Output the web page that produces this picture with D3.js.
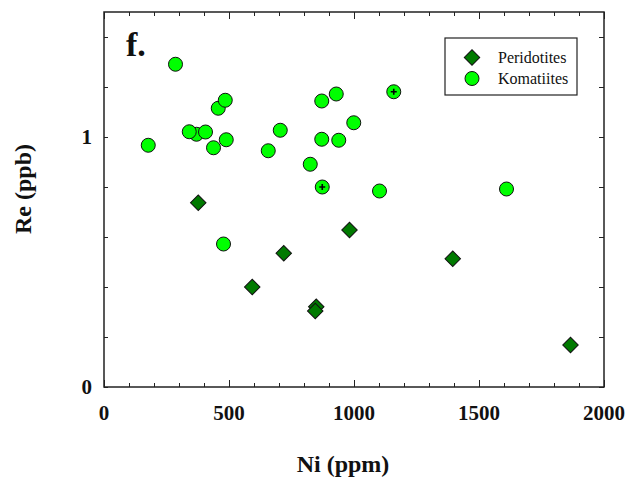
<!DOCTYPE html>
<html>
<head>
<meta charset="utf-8">
<script src="https://cdn.jsdelivr.net/npm/d3@7"></script>
<style>
  body { margin: 0; background: #fff; }
  svg text { font-family: "Liberation Serif", "Times New Roman", Times, serif; fill: #111; }
  .axis path, .axis line { stroke: #222; }
  .axis text { font-size: 21px; font-weight: bold; }
</style>
</head>
<body>
<div id="chart"></div>
<script>
// Komatiites (circles)
const komNi = [177, 286, 370, 341, 406, 438, 457, 485, 489, 478, 657, 705, 825, 871, 871, 873, 929, 939, 999, 1102, 1159, 1610];
const komRe = [0.967, 1.291, 1.011, 1.021, 1.02, 0.957, 1.115, 1.147, 0.989, 0.572, 0.945, 1.027, 0.891, 1.144, 0.991, 0.80, 1.172, 0.987, 1.057, 0.784, 1.181, 0.792];
// komatiite samples drawn with a "+" marker inside
const komMarked = [873, 1159];

// Peridotites (diamonds)
const perNi = [377, 593, 719, 849, 845, 982, 1395, 1866];
const perRe = [0.737, 0.400, 0.535, 0.321, 0.304, 0.628, 0.513, 0.168];

const xTicks = [0, 500, 1000, 1500, 2000];
const yLabelTicks = [0, 1];

const width = 628, height = 483;
const margin = { top: 12, right: 24, bottom: 96, left: 104 };
const serif = '"Liberation Serif", "Times New Roman", Times, serif';

const svg = d3.select('#chart').append('svg')
  .attr('width', width)
  .attr('height', height)
  .attr('font-family', serif);

const x = d3.scaleLinear().domain([0, 2000]).range([margin.left, width - margin.right]);
const y = d3.scaleLinear().domain([0, 1.5]).range([height - margin.bottom, margin.top]);

const x0 = x.range()[0], x1 = x.range()[1];
const y0 = y.range()[0], y1 = y.range()[1];

// minor + major tick marks (inward)
const minorX = d3.range(0, 2001, 100);
const minorY = d3.range(0, 1.51, 0.2);

function xTickAxis(sel, axisFn, dir) {
  sel.call(axisFn(x).tickValues(minorX).tickSize(dir * 4).tickFormat(''))
    .call(g => g.selectAll('.tick line')
      .attr('y2', d => dir * (d % 500 === 0 ? 7 : 4)));
}

// bottom
svg.append('g').attr('class', 'axis')
  .attr('transform', `translate(0,${y0})`)
  .call(g => xTickAxis(g, d3.axisBottom, -1))
  .call(g => g.select('.domain').remove());
// top
svg.append('g').attr('class', 'axis')
  .attr('transform', `translate(0,${y1})`)
  .call(g => xTickAxis(g, d3.axisTop, 1))
  .call(g => g.select('.domain').remove());
// left
svg.append('g').attr('class', 'axis')
  .attr('transform', `translate(${x0},0)`)
  .call(d3.axisLeft(y).tickValues(minorY).tickSize(-4).tickFormat(''))
  .call(g => g.select('.domain').remove());
// right
svg.append('g').attr('class', 'axis')
  .attr('transform', `translate(${x1},0)`)
  .call(d3.axisRight(y).tickValues(minorY).tickSize(-5).tickFormat(''))
  .call(g => g.select('.domain').remove());

// frame
svg.append('rect')
  .attr('x', x0).attr('y', y1)
  .attr('width', x1 - x0).attr('height', y0 - y1)
  .attr('fill', 'none').attr('stroke', '#222').attr('stroke-width', 1.5);

// tick labels
svg.append('g').attr('class', 'axis')
  .selectAll('text').data(xTicks).join('text')
  .attr('x', d => x(d)).attr('y', y0 + 33)
  .attr('text-anchor', 'middle')
  .attr('font-family', serif)
  .text(d => d);

svg.append('g').attr('class', 'axis')
  .selectAll('text').data(yLabelTicks).join('text')
  .attr('x', x0 - 12).attr('y', d => y(d) + 7)
  .attr('text-anchor', 'end')
  .attr('font-family', serif)
  .text(d => d);

// axis titles
svg.append('text')
  .attr('x', 343).attr('y', 472)
  .attr('text-anchor', 'middle')
  .attr('font-family', serif)
  .style('font-size', '24px').style('font-weight', 'bold')
  .text('Ni (ppm)');

svg.append('text')
  .attr('transform', 'translate(31,189) rotate(-90)')
  .attr('text-anchor', 'middle')
  .attr('font-family', serif)
  .style('font-size', '24px').style('font-weight', 'bold')
  .text('Re (ppb)');

// panel letter
svg.append('text')
  .attr('x', 126).attr('y', 56)
  .attr('font-family', serif)
  .style('font-size', '34px').style('font-weight', 'bold')
  .text('f.');

const diamond = d3.symbol().type(d3.symbolSquare).size(120);
const perColor = '#007a00';
const komColor = '#00ff00';

// peridotites
const perData = perNi.map((n, i) => ({ ni: n, re: perRe[i] }));
svg.append('g').selectAll('path').data(perData).join('path')
  .attr('d', diamond)
  .attr('transform', d => `translate(${x(d.ni)},${y(d.re)}) rotate(45)`)
  .attr('fill', perColor).attr('stroke', '#111').attr('stroke-width', 1);

// komatiites
const komData = komNi.map((n, i) => ({ ni: n, re: komRe[i], marked: komMarked.includes(n) }));
const kom = svg.append('g');
kom.selectAll('circle').data(komData).join('circle')
  .attr('cx', d => x(d.ni)).attr('cy', d => y(d.re))
  .attr('r', 7)
  .attr('fill', komColor).attr('stroke', '#111').attr('stroke-width', 1);

kom.selectAll('path.plus').data(komData.filter(d => d.marked)).join('path')
  .attr('class', 'plus')
  .attr('d', d => `M${x(d.ni) - 3},${y(d.re)}h6M${x(d.ni)},${y(d.re) - 3}v6`)
  .attr('stroke', '#000').attr('stroke-width', 1.6);

// legend
const lg = svg.append('g').attr('transform', 'translate(445,38)');
lg.append('rect')
  .attr('width', 132).attr('height', 57)
  .attr('fill', '#fff').attr('stroke', '#222').attr('stroke-width', 1.2);
lg.append('path')
  .attr('d', diamond)
  .attr('transform', 'translate(27,19.5) rotate(45)')
  .attr('fill', perColor).attr('stroke', '#111');
lg.append('circle')
  .attr('cx', 27).attr('cy', 40.5).attr('r', 7)
  .attr('fill', komColor).attr('stroke', '#111');
lg.selectAll('text.lbl').data(['Peridotites', 'Komatiites']).join('text')
  .attr('class', 'lbl')
  .attr('x', 53).attr('y', (d, i) => 25 + i * 21)
  .attr('font-family', serif)
  .style('font-size', '16px')
  .text(d => d);
</script>
</body>
</html>
